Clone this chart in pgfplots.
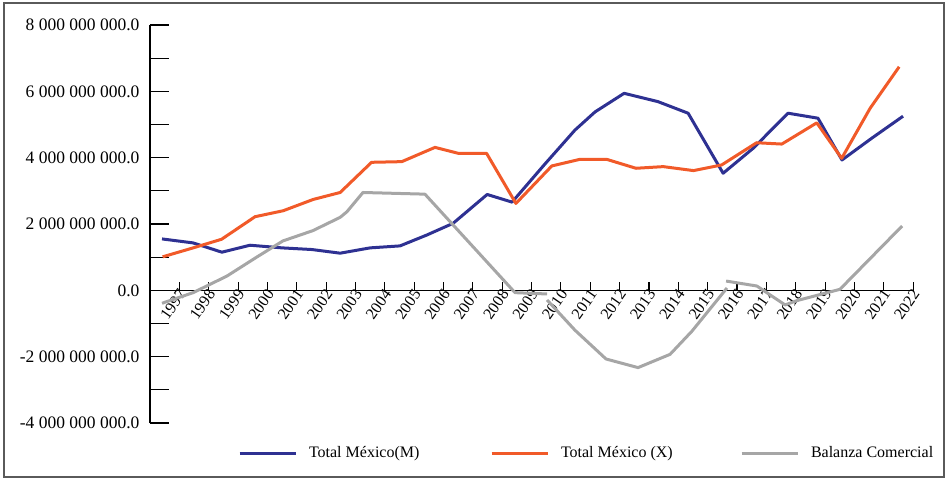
\documentclass[border=0pt]{standalone}
\usepackage{fontspec}
\setmainfont{Liberation Serif}
\usepackage{pgfplots}
\pgfplotsset{compat=1.18}
\definecolor{cM}{RGB}{46,49,146}
\definecolor{cX}{RGB}{241,90,41}
\definecolor{cB}{RGB}{166,166,166}
\definecolor{frame}{RGB}{90,90,90}
\begin{document}
\begin{tikzpicture}[x=1pt,y=1pt]
\path[use as bounding box] (0,0) rectangle (947,479);
\draw[frame, line width=1.2pt] (4,2) rectangle (944,476);
\begin{axis}[
  at={(150pt,56pt)}, anchor=south west,
  scale only axis, width=764pt, height=398pt,
  xmin=1996.595, xmax=2022.37,
  ymin=-4e9, ymax=8e9,
  axis x line=middle, axis y line=left,
  every inner x axis line/.append style={-},
  x axis line style={-}, y axis line style={-},
  axis line style={black, line width=1.1pt},
  tick style={black, line width=1.1pt},
  tick align=inside,
  major tick length=8pt,
  ytick style={/pgfplots/major tick length=19pt, /pgfplots/minor tick length=19pt},
  xtick={1996.595,1997.585,1998.575,1999.566,2000.556,2001.546,2002.536,2003.526,2004.517,2005.507,2006.497,2007.487,2008.477,2009.468,2010.458,2011.448,2012.438,2013.428,2014.419,2015.409,2016.399,2017.389,2018.379,2019.370,2020.360,2021.350,2022.340},
  xticklabels={,1997,1998,1999,2000,2001,2002,2003,2004,2005,2006,2007,2008,2009,2010,2011,2012,2013,2014,2015,2016,2017,2018,2019,2020,2021,2022},
  xticklabel style={rotate=55, anchor=east, font=\fontsize{16}{18}\selectfont, inner sep=1pt, xshift=2pt, yshift=-3pt},
  ytick={-4e9,-2e9,0,2e9,4e9,6e9,8e9},
  minor ytick={-3e9,-1e9,1e9,3e9,5e9,7e9},
  scaled y ticks=false,
  yticklabel style={font=\fontsize{17.5}{20}\selectfont, xshift=-7pt, /pgf/number format/.cd, fixed, fixed zerofill, precision=1, 1000 sep={\ }, assume math mode=true},
  legend columns=3,
  legend style={draw=none, at={(0.1152,-0.0754)}, anchor=west, inner sep=0pt, outer sep=0pt,
    font=\fontsize{16}{19}\selectfont, nodes={inner sep=0pt},
    /tikz/every odd column/.append style={column sep=12pt},
    /tikz/every even column/.append style={column sep=0pt}},
  legend image code/.code={\draw[#1] (0pt,0pt) -- (56pt,0pt);},
  unbounded coords=jump,
]
\addplot[cM, line width=3pt, line join=round] coordinates {
(1997.00,1.55e9)(1998.05,1.43e9)(1999.02,1.15e9)(1999.97,1.36e9)(2001.05,1.28e9)(2002.06,1.23e9)(2003.01,1.12e9)(2004.02,1.28e9)(2005.03,1.34e9)(2005.94,1.67e9)(2006.82,2.02e9)(2007.97,2.89e9)(2008.81,2.66e9)(2009.92,3.81e9)(2010.93,4.83e9)(2011.61,5.38e9)(2012.59,5.94e9)(2013.73,5.69e9)(2014.75,5.34e9)(2015.93,3.53e9)(2016.94,4.28e9)(2018.12,5.34e9)(2019.13,5.19e9)(2019.94,3.93e9)(2020.95,4.59e9)(2022.00,5.25e9)
};
\addlegendentry{\makebox[181pt][l]{Total México(M)}}
\addplot[cX, line width=3pt, line join=round] coordinates {
(1997.02,1.01e9)(1998.05,1.28e9)(1999.01,1.54e9)(2000.14,2.22e9)(2001.09,2.40e9)(2002.10,2.74e9)(2003.01,2.95e9)(2004.07,3.86e9)(2005.09,3.88e9)(2006.21,4.31e9)(2007.00,4.13e9)(2007.95,4.13e9)(2008.94,2.62e9)(2010.15,3.75e9)(2011.10,3.95e9)(2012.00,3.95e9)(2012.99,3.68e9)(2013.91,3.73e9)(2014.93,3.61e9)(2015.88,3.78e9)(2017.06,4.45e9)(2017.91,4.41e9)(2019.09,5.05e9)(2019.93,3.98e9)(2020.89,5.49e9)(2021.87,6.74e9)
};
\addlegendentry{\makebox[179pt][l]{Total México (X)}}
\addplot[cB, line width=3pt, line join=round] coordinates {
(1997.00,-0.39e9)(1998.05,-0.07e9)(1999.19,0.43e9)(2000.21,1.01e9)(2001.08,1.49e9)(2002.09,1.80e9)(2003.01,2.20e9)(2003.24,2.37e9)(2003.78,2.95e9)(2005.87,2.90e9)(2008.91,-0.07e9)(2009.99,-0.11e9)(2010.00,nan)(2009.99,-0.29e9)(2010.93,-1.20e9)(2011.98,-2.07e9)(2013.06,-2.33e9)(2014.14,-1.93e9)(2014.88,-1.23e9)(2016.06,0.07e9)(2016.07,nan)(2016.03,0.28e9)(2017.07,0.13e9)(2018.02,-0.44e9)(2018.42,-0.31e9)(2019.87,0.03e9)(2021.97,1.94e9)
};
\addlegendentry{Balanza Comercial}
\end{axis}
\end{tikzpicture}
\end{document}
